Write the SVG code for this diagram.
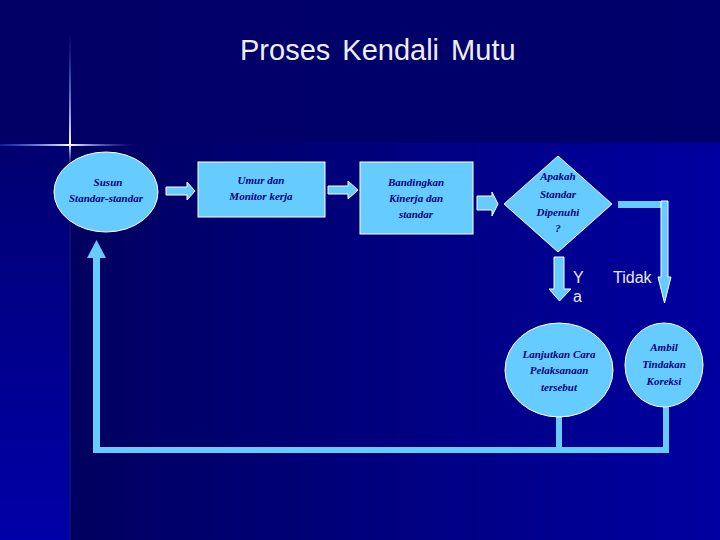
<svg xmlns="http://www.w3.org/2000/svg" width="720" height="540" viewBox="0 0 720 540">
<defs>
<linearGradient id="bgMain" x1="0" y1="0" x2="1" y2="0">
<stop offset="0" stop-color="#000058"/>
<stop offset="1" stop-color="#0000a0"/>
</linearGradient>
<linearGradient id="bgTop" x1="0" y1="0" x2="1" y2="0">
<stop offset="0" stop-color="#000066"/>
<stop offset="1" stop-color="#00006c"/>
</linearGradient>
<linearGradient id="bgLeft" x1="0" y1="0" x2="0" y2="1">
<stop offset="0" stop-color="#000070"/>
<stop offset="1" stop-color="#0000a8"/>
</linearGradient>
<linearGradient id="sparkH" x1="0" y1="0" x2="1" y2="0">
<stop offset="0" stop-color="#3a6cff" stop-opacity="0.3"/>
<stop offset="0.52" stop-color="#ffffff" stop-opacity="1"/>
<stop offset="1" stop-color="#3a6cff" stop-opacity="0"/>
</linearGradient>
<linearGradient id="sparkV" x1="0" y1="0" x2="0" y2="1">
<stop offset="0" stop-color="#3a6cff" stop-opacity="0"/>
<stop offset="0.85" stop-color="#ffffff" stop-opacity="1"/>
<stop offset="1" stop-color="#3a6cff" stop-opacity="0"/>
</linearGradient>
</defs>
<style>
.shape{fill:#66ccff;stroke:#ffffff;stroke-width:1}
.bar{fill:#66ccff;stroke:none}
.ntext{font-family:"Liberation Serif",serif;font-style:italic;font-weight:bold;font-size:11px;fill:#000080;text-anchor:middle}
.label{font-family:"Liberation Sans",Arial,sans-serif;font-size:16px;fill:#e8e8f4}
.title{font-family:"Liberation Sans",Arial,sans-serif;font-size:29px;fill:#eeeefa;word-spacing:4px}
</style>

<!-- background -->
<rect x="0" y="0" width="720" height="540" fill="url(#bgTop)"/>
<rect x="0" y="143" width="720" height="397" fill="url(#bgMain)"/>
<rect x="0" y="143" width="69" height="397" fill="url(#bgLeft)"/>
<rect x="69" y="143" width="2" height="397" fill="#1a1a9a" opacity="0.5"/>
<rect x="0" y="144" width="135" height="2" fill="url(#sparkH)"/>
<rect x="69" y="30" width="2" height="135" fill="url(#sparkV)"/>

<text class="title" x="240" y="60">Proses Kendali Mutu</text>

<g id="connectors">
<path class="shape" d="M166,187 H187 V182 L195,191 L187,200 V195 H166 Z"/>
<path class="shape" d="M328,186 H348 V181 L358,190 L348,199 V194 H328 Z"/>
<path class="shape" d="M477,196 H492 V192 L498,204 L492,216 V210 H477 Z"/>
<path class="shape" d="M554,257 H564 V289 H571 L559.5,301 L549,289 H554 Z"/>
<rect class="bar" x="618" y="201" width="46" height="7"/>
<path class="shape" d="M661,201 H668 V277 H671 L664.5,303 L658,277 H661 Z"/>
<rect class="bar" x="556" y="417" width="6" height="35"/>
<rect class="bar" x="663" y="407" width="6" height="46"/>
<rect class="bar" x="93" y="447" width="576" height="6"/>
<path class="bar" d="M93,453 V258 H87 L96.5,240 L106,258 H100 V453 Z"/>
<text class="label" x="573" y="283">Y</text>
<text class="label" x="573" y="302">a</text>
<text class="label" x="613" y="283">Tidak</text>
</g>

<g id="node-susun">
<ellipse class="shape" cx="106" cy="192" rx="52" ry="40"/>
<text class="ntext" x="108" y="186">Susun</text>
<text class="ntext" x="106" y="202">Standar-standar</text>
</g>

<g id="node-umur">
<rect class="shape" x="198" y="162" width="127" height="55"/>
<text class="ntext" x="261" y="184">Umur dan</text>
<text class="ntext" x="261" y="200">Monitor kerja</text>
</g>

<g id="node-bandingkan">
<rect class="shape" x="360" y="162" width="113" height="72"/>
<text class="ntext" x="416" y="186">Bandingkan</text>
<text class="ntext" x="416" y="202">Kinerja dan</text>
<text class="ntext" x="416" y="218">standar</text>
</g>

<g id="node-apakah">
<polygon class="shape" points="558,156 612,204 558,252 504,204"/>
<text class="ntext" x="558" y="180">Apakah</text>
<text class="ntext" x="558" y="198">Standar</text>
<text class="ntext" x="558" y="216">Dipenuhi</text>
<text class="ntext" x="558" y="232">?</text>
</g>

<g id="node-lanjutkan">
<ellipse class="shape" cx="559" cy="370" rx="54" ry="47"/>
<text class="ntext" x="559" y="358">Lanjutkan Cara</text>
<text class="ntext" x="559" y="374">Pelaksanaan</text>
<text class="ntext" x="559" y="391">tersebut</text>
</g>

<g id="node-ambil">
<ellipse class="shape" cx="664" cy="365" rx="39" ry="42"/>
<text class="ntext" x="664" y="351">Ambil</text>
<text class="ntext" x="664" y="368">Tindakan</text>
<text class="ntext" x="664" y="385">Koreksi</text>
</g>
</svg>
